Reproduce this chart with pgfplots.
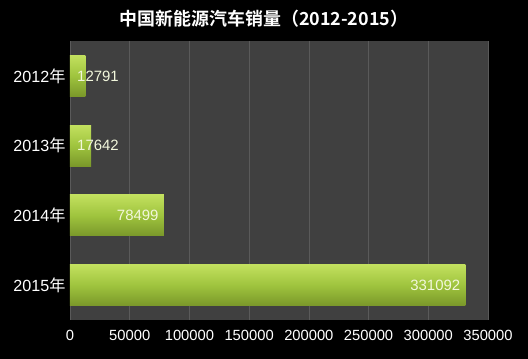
\documentclass[border=0pt]{standalone}
\usepackage{pgfplots}
\pgfplotsset{compat=1.18}
\usepackage{fontspec}
\setmainfont{Liberation Sans}
\newfontfamily\cjk{Noto Sans CJK SC}[BoldFont={Noto Sans CJK SC Bold}]
\usetikzlibrary{backgrounds}
\definecolor{plotbg}{HTML}{404040}
\definecolor{gridc}{HTML}{5A5A5A}
\definecolor{bartop}{HTML}{C2E05E}
\definecolor{barmid}{HTML}{9FC43E}
\definecolor{barbot}{HTML}{7A982A}
\definecolor{lab}{HTML}{F2F7DC}
\begin{document}
\begin{tikzpicture}
\begin{axis}[
  scale only axis,
  width=418bp, height=279bp,
  xmin=0, xmax=350000,
  ymin=-0.5, ymax=3.5,
  y dir=reverse,
  axis background/.style={fill=plotbg},
  axis line style={draw=none},
  xtick={0,50000,...,350000},
  xmajorgrids, grid style={gridc, line width=0.6bp},
  major x tick style={draw=none},
  ytick={0,1,2,3},
  yticklabels={2012{\cjk 年},2013{\cjk 年},2014{\cjk 年},2015{\cjk 年}},
  major y tick style={draw=none},
  extra y ticks={0.5,1.5,2.5},
  extra y tick labels={},
  extra y tick style={tick style={draw=gray!70!black, line width=0.6bp}, major tick length=4bp, tick align=outside, grid=none},
  scaled x ticks=false,
  /pgf/number format/fixed,
  /pgf/number format/precision=0,
  /pgf/number format/1000 sep={},
  /pgf/number format/assume math mode=true,
  tick label style={text=white},
  xticklabel style={yshift=-7bp, font=\fontsize{14.8}{16}\selectfont},
  yticklabel style={xshift=-1bp, font=\fontsize{16.2}{18}\selectfont},
  title={\cjk\bfseries 中国新能源汽车销量（2012-2015）},
  title style={at={(0.464,1)}, anchor=base, yshift=10bp, font=\fontsize{18}{20}\selectfont, text=white},
  clip=false,
  bar style/.style={xbar, bar width=0.585, bar shift=0pt, draw=none,
    top color=bartop, bottom color=barbot, middle color=barmid},
]
\addplot[bar style] coordinates {(12791,0)};
\addplot[bar style] coordinates {(17642,1)};
\addplot[bar style] coordinates {(78499,2)};
\addplot[bar style] coordinates {(331092,3)};
\addplot[only marks, mark=none, point meta=explicit symbolic,
  nodes near coords,
  nodes near coords style={anchor=west, text=lab, font=\fontsize{15}{16}\selectfont, inner sep=0pt, xshift=7bp}]
  coordinates {(0,0)[12791] (0,1)[17642]};
\addplot[only marks, mark=none, point meta=explicit symbolic,
  nodes near coords,
  nodes near coords style={anchor=east, text=lab, font=\fontsize{15}{16}\selectfont, inner sep=0pt, xshift=-5bp}]
  coordinates {(78499,2)[78499] (331092,3)[331092]};
\coordinate (sw) at (rel axis cs:0,0);
\coordinate (ne) at (rel axis cs:1,1);
\end{axis}
\begin{pgfonlayer}{background}
\fill[black] ([shift={(-70bp,-39bp)}]sw) rectangle ([shift={(40bp,41bp)}]ne);
\end{pgfonlayer}
\end{tikzpicture}
\end{document}
